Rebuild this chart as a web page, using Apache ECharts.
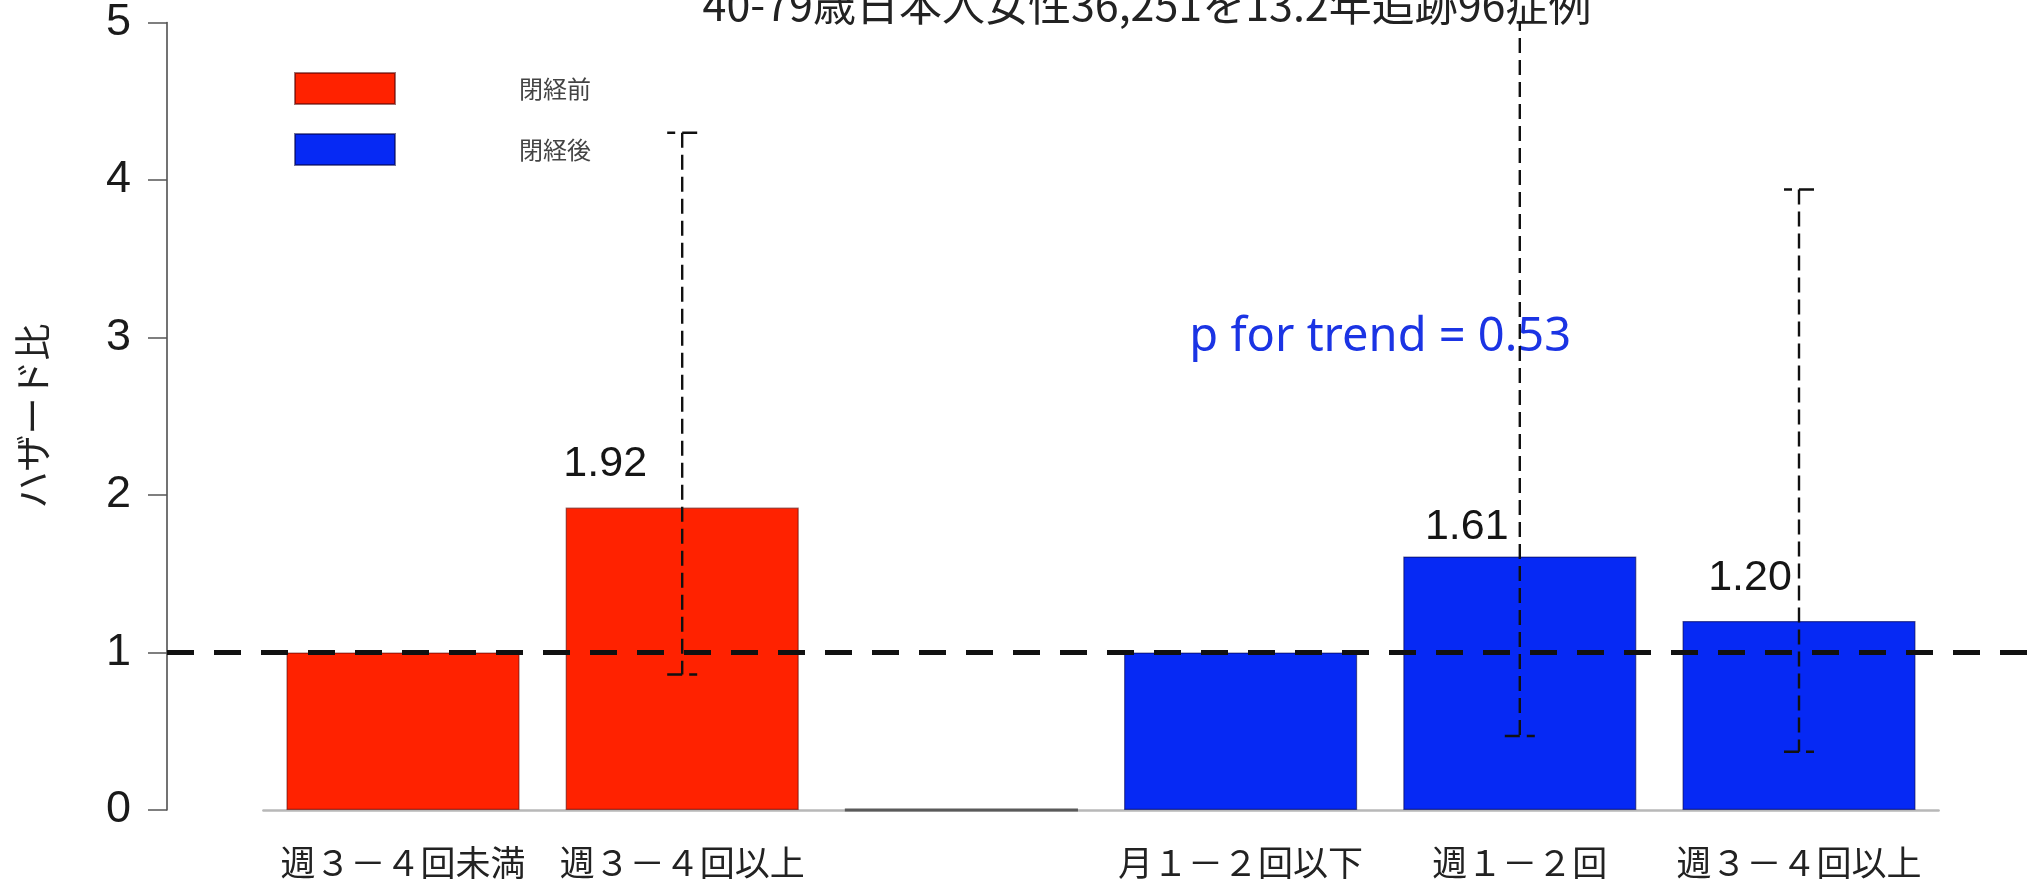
<!DOCTYPE html>
<html>
<head>
<meta charset="utf-8">
<script src="https://cdn.jsdelivr.net/npm/echarts@6/dist/echarts.min.js"></script>
<style>
  html, body { margin: 0; padding: 0; background: #fff; }
  #chart { width: 2042px; height: 885px; }
</style>
</head>
<body>
<div id="chart"></div>
<script>
// Hazard ratios by frequency group, before / after menopause
const preCategories = ['週３－４回未満', '週３－４回以上'];
const postCategories = ['月１－２回以下', '週１－２回', '週３－４回以上'];
const preHR = [1.00, 1.92];
const preLower = [null, 0.86];
const preUpper = [null, 4.30];
const postHR = [1.00, 1.61, 1.20];
const postLower = [null, 0.47, 0.37];
const postUpper = [null, 5.60, 3.94];
const yTicks = [0, 1, 2, 3, 4, 5];
const referenceHR = 1;
const trendText = 'p for trend = 0.53';
const trendY = 3;
const titleText = '40-79歳日本人女性36,251を13.2年追跡96症例';
const yTitle = 'ハザード比';
const preName = '閉経前';
const postName = '閉経後';

// ---- derived layout of the category slots (one empty slot between groups)
const categories = [...preCategories, '', ...postCategories];
const gapIndex = preCategories.length;
const postStart = gapIndex + 1;

const RED = '#ff2200';
const BLUE = '#0629f4';
const CJK = '"Noto Sans CJK JP", sans-serif';
const LATIN = '"Liberation Sans", Arial, sans-serif';
const GRID = { left: 263.4, right: 103.4, top: 22, bottom: 75 };
const AXIS_X = 167;

// label nudges (px) per category slot, for the non-reference bars
const labelNudge = { 1: [-77, -23], 4: [-53, -9], 5: [-49, -23] };

function barItem(v, idx) {
  if (v === referenceHR) return { value: v };
  return {
    value: v,
    label: {
      show: true,
      position: 'top',
      distance: 0,
      offset: labelNudge[idx] || [0, 0],
      formatter: (p) => p.value.toFixed(2),
      fontFamily: LATIN,
      fontSize: 43,
      lineHeight: 40,
      color: '#151515'
    }
  };
}

const preData = categories.map((c, i) => (i < gapIndex ? barItem(preHR[i], i) : '-'));
const postData = categories.map((c, i) => (i >= postStart ? barItem(postHR[i - postStart], i) : '-'));
const spacerData = categories.map((c, i) => (i === gapIndex ? 0 : '-'));

const ciData = [];
preHR.forEach((v, i) => {
  if (preLower[i] != null) ciData.push([i, preLower[i], preUpper[i]]);
});
postHR.forEach((v, i) => {
  if (postLower[i] != null) ciData.push([postStart + i, postLower[i], postUpper[i]]);
});

const chart = echarts.init(document.getElementById('chart'), null, { renderer: 'canvas' });

const dashStyle = { stroke: '#111', lineWidth: 2.4, lineDash: [15, 7], fill: null };

const option = {
  animation: false,
  backgroundColor: '#fff',
  grid: GRID,
  legend: {
    data: [preName, postName],
    orient: 'vertical',
    left: 289,
    top: 67,
    itemWidth: 100,
    itemHeight: 31,
    itemGap: 28,
    icon: 'rect',
    selectedMode: false,
    textStyle: {
      fontFamily: CJK,
      fontSize: 24,
      color: '#444',
      padding: [6, 0, 0, 119]
    }
  },
  xAxis: {
    type: 'category',
    data: categories,
    axisLine: { lineStyle: { color: '#b8b8b8', width: 2.5 } },
    axisTick: { alignWithLabel: true, length: 18, lineStyle: { color: '#555', width: 1.5 } },
    axisLabel: {
      interval: 0,
      fontFamily: CJK,
      fontSize: 35,
      lineHeight: 35,
      color: '#222',
      margin: 35
    },
    splitLine: { show: false }
  },
  yAxis: {
    type: 'value',
    min: yTicks[0],
    max: yTicks[yTicks.length - 1],
    interval: 1,
    offset: GRID.left - AXIS_X,
    axisLine: { show: true, lineStyle: { color: '#444', width: 1.5 } },
    axisTick: { show: true, length: 19, lineStyle: { color: '#555', width: 1.5 } },
    axisLabel: { fontFamily: LATIN, fontSize: 45, fontWeight: 'normal', color: '#1a1a1a', margin: 36 },
    splitLine: { show: false }
  },
  series: [
    {
      name: preName,
      type: 'bar',
      data: preData,
      barWidth: '83.5%',
      barGap: '-100%',
      itemStyle: { color: RED, borderColor: 'rgba(80,0,0,0.55)', borderWidth: 1.2 },
      z: 2
    },
    {
      name: postName,
      type: 'bar',
      data: postData,
      barWidth: '83.5%',
      barGap: '-100%',
      itemStyle: { color: BLUE, borderColor: 'rgba(0,0,70,0.55)', borderWidth: 1.2 },
      z: 2
    },
    {
      name: 'spacer',
      type: 'bar',
      data: spacerData,
      barWidth: '83.5%',
      barGap: '-100%',
      itemStyle: { color: 'transparent', borderColor: '#5a5a5a', borderWidth: 3 },
      z: 3
    },
    {
      name: 'ci',
      type: 'custom',
      data: ciData,
      encode: { x: 0, y: [1, 2] },
      clip: true,
      z: 6,
      renderItem: function (params, api) {
        const x = api.coord([api.value(0), 0])[0];
        const yLo = api.coord([api.value(0), api.value(1)])[1];
        const yHi = api.coord([api.value(0), api.value(2)])[1];
        const cap = 15;
        return {
          type: 'group',
          children: [
            { type: 'line', shape: { x1: x, y1: yHi, x2: x, y2: yLo }, style: dashStyle },
            { type: 'line', shape: { x1: x + cap, y1: yHi, x2: x - cap, y2: yHi }, style: dashStyle },
            { type: 'line', shape: { x1: x - cap, y1: yLo, x2: x + cap, y2: yLo }, style: dashStyle }
          ]
        };
      }
    }
  ]
};

chart.setOption(option);

// overlays positioned through the chart's own scales
const yRef = chart.convertToPixel({ yAxisIndex: 0 }, referenceHR);
const xA = chart.convertToPixel({ xAxisIndex: 0 }, postStart);
const xB = chart.convertToPixel({ xAxisIndex: 0 }, postStart + 1);
const yTrend = chart.convertToPixel({ yAxisIndex: 0 }, trendY);

chart.setOption({
  graphic: [
    {
      type: 'line',
      z: 5,
      shape: { x1: AXIS_X, y1: yRef, x2: 2042, y2: yRef },
      style: { stroke: '#111', lineWidth: 5, lineDash: [27, 20] }
    },
    {
      type: 'text',
      x: (xA + xB) / 2,
      y: yTrend,
      style: {
        text: trendText,
        fontFamily: '"Noto Sans", sans-serif',
        fontSize: 47,
        fill: '#1b34e4',
        textAlign: 'center',
        textVerticalAlign: 'middle'
      }
    },
    {
      type: 'text',
      x: 1147,
      y: 5,
      style: {
        text: titleText,
        fontFamily: CJK,
        fontSize: 43,
        fill: '#222',
        textAlign: 'center',
        textVerticalAlign: 'middle'
      }
    },
    {
      type: 'text',
      x: 33,
      y: 416,
      rotation: Math.PI / 2,
      style: {
        text: yTitle,
        fontFamily: CJK,
        fontSize: 37,
        fill: '#222',
        textAlign: 'center',
        textVerticalAlign: 'middle'
      }
    }
  ]
});
</script>
</body>
</html>
